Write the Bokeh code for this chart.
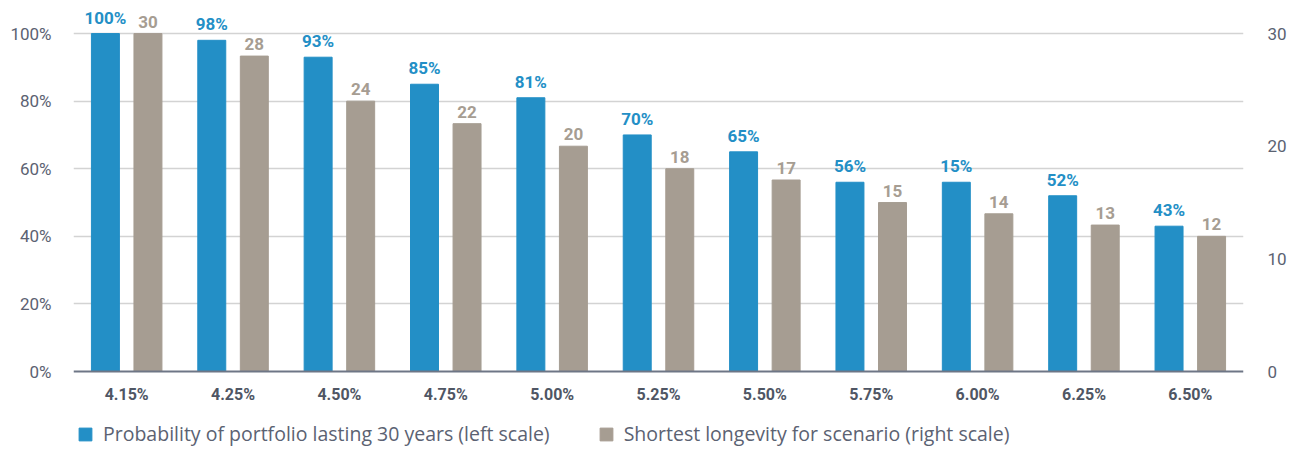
from bokeh.plotting import figure
from bokeh.models import (ColumnDataSource, FactorRange, Range1d, LinearAxis,
                          FixedTicker, Legend, LegendItem, CustomJSTickFormatter, Span)
from bokeh.transform import dodge
from bokeh.core.properties import value
from bokeh.embed import file_html
from bokeh.resources import INLINE

# Withdrawal rates and their outcomes
rates = ["4.15%", "4.25%", "4.50%", "4.75%", "5.00%", "5.25%",
         "5.50%", "5.75%", "6.00%", "6.25%", "6.50%"]
probability = [100, 98, 93, 85, 81, 70, 65, 56, 56, 52, 43]       # % (left scale)
probability_labels = ["100%", "98%", "93%", "85%", "81%", "70%",
                      "65%", "56%", "15%", "52%", "43%"]
longevity = [30, 28, 24, 22, 20, 18, 17, 15, 14, 13, 12]           # years (right scale)

left_ticks = [0, 20, 40, 60, 80, 100]
right_ticks = [0, 10, 20, 30]

BLUE = "#238fc6"
GREY = "#a69d92"
TEXT = "#5b6272"
FONT = "Roboto"

source = ColumnDataSource(dict(
    rate=rates,
    prob=probability,
    prob_label=probability_labels,
    years=longevity,
    years_label=[str(v) for v in longevity],
))

# The frame runs to the bottom edge so the category labels and legend
# can live inside it, underneath the zero line.
Y_TOP = 108.3
Y_BOTTOM = -23.37
p = figure(
    x_range=FactorRange(*rates, range_padding=0),
    y_range=Range1d(Y_BOTTOM, Y_TOP),
    frame_width=1170, frame_height=445,
    output_backend="svg", toolbar_location=None,
    min_border_left=73, min_border_right=52, min_border_top=5, min_border_bottom=0,
)
p.extra_y_ranges = {"years": Range1d(Y_BOTTOM * 0.3, Y_TOP * 0.3)}

blue = p.vbar(x=dodge("rate", -0.2, range=p.x_range), top="prob", width=0.263,
              source=source, color=BLUE)
grey = p.vbar(x=dodge("rate", 0.2, range=p.x_range), top="years", width=0.263,
              source=source, color=GREY, y_range_name="years")

p.text(x=dodge("rate", -0.2, range=p.x_range), y="prob", text="prob_label",
       source=source, text_align="center", text_baseline="bottom", y_offset=-6,
       text_color=BLUE, text_font=value(FONT), text_font_style="bold",
       text_font_size="17px")
p.text(x=dodge("rate", 0.2, range=p.x_range), y="years", text="years_label",
       source=source, text_align="center", text_baseline="bottom", y_offset=-6,
       text_color=GREY, text_font=value(FONT), text_font_style="bold",
       text_font_size="17px", y_range_name="years")

# Zero line and category labels
p.add_layout(Span(location=0, dimension="width", line_color="#6e7686", line_width=2))
p.text(x="rate", y=0, text="rate", source=source, text_align="center",
       text_baseline="top", y_offset=13, text_color="#4f5664",
       text_font=value(FONT), text_font_style="bold", text_font_size="16px")
p.xaxis.visible = False

# Left axis (percent)
ax = p.yaxis[0]
ax.ticker = FixedTicker(ticks=left_ticks)
ax.formatter = CustomJSTickFormatter(code="return tick + '%';")
ax.axis_line_color = None
ax.major_tick_line_color = None
ax.minor_tick_line_color = None
ax.major_label_text_font = FONT
ax.major_label_text_font_size = "17px"
ax.major_label_text_color = TEXT
ax.major_label_standoff = 16

# Right axis (years)
rax = LinearAxis(y_range_name="years", ticker=FixedTicker(ticks=right_ticks))
rax.axis_line_color = None
rax.major_tick_line_color = None
rax.minor_tick_line_color = None
rax.major_label_text_font = FONT
rax.major_label_text_font_size = "17px"
rax.major_label_text_color = TEXT
rax.major_label_standoff = 18
p.add_layout(rax, "right")

p.xgrid.grid_line_color = None
p.ygrid.ticker = FixedTicker(ticks=left_ticks[1:])
p.ygrid.grid_line_color = "#d3d3d3"
p.ygrid.grid_line_width = 1.5
p.outline_line_color = None

legend = Legend(items=[
    LegendItem(label="Probability of portfolio lasting 30 years (left scale)", renderers=[blue]),
    LegendItem(label="Shortest longevity for scenario (right scale)", renderers=[grey]),
], orientation="horizontal", location=(4, 3))
legend.label_text_font = "Open Sans"
legend.label_text_font_size = "19.5px"
legend.label_text_color = TEXT
legend.glyph_width = 16
legend.glyph_height = 16
legend.label_standoff = 10
legend.spacing = 48
legend.padding = 0
legend.margin = 0
legend.border_line_color = None
legend.background_fill_alpha = 0
legend.label_height = 16
p.add_layout(legend)

open("out.html", "w").write(file_html(p, INLINE))
